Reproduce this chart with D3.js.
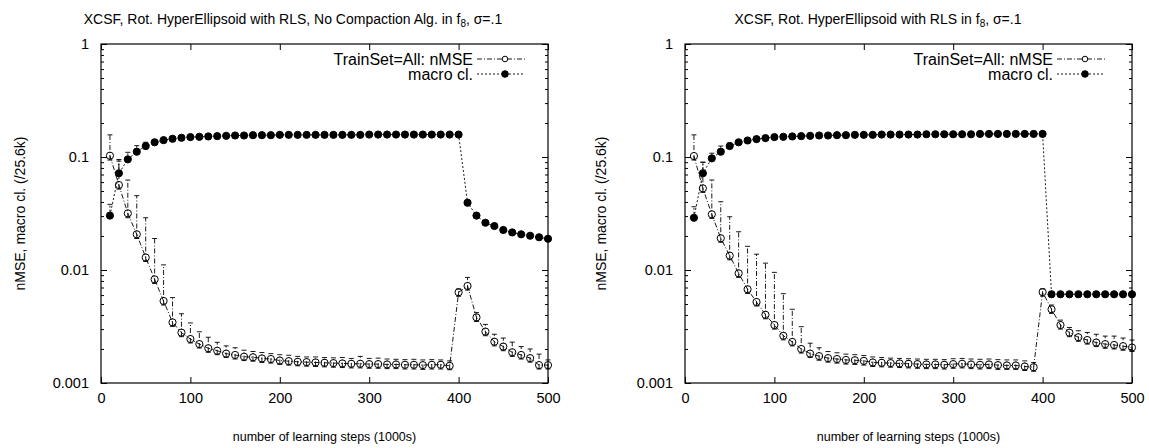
<!DOCTYPE html>
<html>
<head>
<meta charset="utf-8">
<script src="https://cdn.jsdelivr.net/npm/d3@7"></script>
<style>
  body { margin: 0; background: #fff; }
  svg text { font-family: "Liberation Sans", Arial, sans-serif; fill: #000; }
</style>
</head>
<body>
<svg id="chart" width="1149" height="448"></svg>
<script>
// learning steps (1000s)
var steps = [10,20,30,40,50,60,70,80,90,100,110,120,130,140,150,160,170,180,190,200,
	210,220,230,240,250,260,270,280,290,300,310,320,330,340,350,360,370,380,390,400,
	410,420,430,440,450,460,470,480,490,500];

var xTicks = [0, 100, 200, 300, 400, 500];
var yTicks = [0.001, 0.01, 0.1, 1];
var yTickLabels = ["0.001", "0.01", "0.1", "1"];

var titles = ["XCSF, Rot. HyperEllipsoid with RLS, No Compaction Alg. in f", "XCSF, Rot. HyperEllipsoid with RLS in f"];
var legendNames = ["TrainSet=All: nMSE", "macro cl."];

// left panel: no compaction
var leftNmse = [0.1027,0.0565,0.0317,0.0207,0.0129,0.00826,0.00532,0.00344,0.00279,0.00245,
	0.00221,0.00203,0.00193,0.00182,0.00177,0.00171,0.00169,0.00165,0.00163,0.00158,
	0.00156,0.00154,0.00153,0.00152,0.00151,0.0015,0.00149,0.00148,0.00148,0.00147,
	0.00147,0.00146,0.00146,0.00145,0.00145,0.00144,0.00145,0.00145,0.00142,0.00635,
	0.00722,0.00381,0.00285,0.00232,0.0021,0.00187,0.00177,0.00166,0.00144,0.00144];
var leftNmseHi = [0.157,0.092,0.0625,0.0455,0.029,0.019,0.0111,0.0057,0.0041,0.0034,
	0.00284,0.00254,0.00229,0.00213,0.00205,0.00195,0.0019,0.00186,0.00182,0.00178,
	0.00176,0.00172,0.0017,0.0017,0.00168,0.00167,0.00168,0.00165,0.00172,0.00165,
	0.00166,0.00163,0.00162,0.00161,0.00162,0.0016,0.00161,0.0016,0.00157,0.0068,
	0.0086,0.0042,0.0033,0.0027,0.0025,0.0023,0.0021,0.002,0.0018,0.0016];
var leftNmseLo = [0.094,0.052,0.029,0.019,0.0119,0.0076,0.0049,0.00317,0.00257,0.00226,
	0.00204,0.00187,0.00178,0.00168,0.00163,0.00158,0.00156,0.00152,0.0015,0.00146,
	0.00144,0.00142,0.00141,0.0014,0.00139,0.00138,0.00137,0.00136,0.00136,0.00135,
	0.00135,0.00134,0.00134,0.00133,0.00133,0.00132,0.00133,0.00133,0.00131,0.00585,
	0.00664,0.0035,0.00262,0.00213,0.00193,0.00172,0.00163,0.00153,0.00133,0.00133];
var leftMacro = [0.0303,0.0718,0.0953,0.1114,0.125,0.135,0.141,0.145,0.148,0.150,
	0.151,0.152,0.153,0.154,0.155,0.155,0.156,0.156,0.156,0.157,
	0.157,0.157,0.157,0.157,0.157,0.157,0.157,0.157,0.157,0.158,
	0.158,0.158,0.158,0.158,0.158,0.158,0.158,0.158,0.158,0.158,
	0.0394,0.0303,0.0262,0.0245,0.0226,0.0215,0.0207,0.0201,0.0195,0.0189];
var leftMacroHi = [0.0381,0.095,0.11,0.126,0.135,0.142,0.146,0.145,0.148,0.150,
	0.151,0.152,0.153,0.154,0.155,0.155,0.156,0.156,0.156,0.157,
	0.157,0.157,0.157,0.157,0.157,0.157,0.157,0.157,0.157,0.158,
	0.158,0.158,0.158,0.158,0.158,0.158,0.158,0.158,0.158,0.158,
	0.0394,0.0303,0.0262,0.0245,0.0226,0.0215,0.0207,0.0201,0.0195,0.0189];

// right panel: with compaction at 400k
var rightNmse = [0.102,0.0528,0.0311,0.0191,0.0134,0.00935,0.00675,0.00521,0.00402,0.00326,
	0.00262,0.00231,0.002,0.00182,0.00173,0.00166,0.00163,0.0016,0.00159,0.00157,
	0.00152,0.00151,0.0015,0.00149,0.00148,0.00147,0.00146,0.00146,0.00145,0.00147,
	0.00148,0.00146,0.00145,0.00146,0.00144,0.00143,0.00143,0.0014,0.00138,0.00638,
	0.00449,0.00326,0.00279,0.00254,0.0024,0.00228,0.00221,0.00217,0.00212,0.00206];
var rightNmseHi = [0.157,0.0898,0.0626,0.0402,0.0296,0.0218,0.0162,0.0138,0.0115,0.00953,
	0.00617,0.00449,0.00315,0.00225,0.00205,0.0019,0.00185,0.0018,0.00178,0.00175,
	0.0017,0.00168,0.00166,0.00165,0.00164,0.00163,0.00162,0.00162,0.00161,0.00164,
	0.00165,0.00163,0.00162,0.00163,0.00161,0.0016,0.0016,0.00157,0.00152,0.0068,
	0.0049,0.0036,0.0031,0.0029,0.0028,0.0027,0.0026,0.0026,0.0025,0.0024];
var rightNmseLo = [0.094,0.0486,0.0286,0.0176,0.0123,0.0086,0.0062,0.0048,0.0037,0.003,
	0.00241,0.00213,0.00184,0.00168,0.00159,0.00153,0.0015,0.00147,0.00146,0.00144,
	0.0014,0.00139,0.00138,0.00137,0.00136,0.00135,0.00134,0.00134,0.00133,0.00135,
	0.00136,0.00134,0.00133,0.00134,0.00132,0.00132,0.00132,0.00129,0.00127,0.00587,
	0.00413,0.003,0.00257,0.00234,0.00221,0.0021,0.00203,0.002,0.00195,0.0019];
var rightMacro = [0.029,0.0718,0.0973,0.1114,0.125,0.135,0.14,0.144,0.147,0.15,
	0.151,0.152,0.153,0.154,0.155,0.155,0.156,0.156,0.157,0.157,
	0.157,0.158,0.158,0.158,0.158,0.158,0.159,0.159,0.159,0.159,
	0.159,0.159,0.16,0.16,0.16,0.16,0.16,0.16,0.16,0.16,
	0.0061,0.0061,0.0061,0.0061,0.0061,0.0061,0.0061,0.0061,0.0061,0.0061];
var rightMacroHi = [0.0363,0.09,0.108,0.125,0.133,0.14,0.14,0.144,0.147,0.15,
	0.151,0.152,0.153,0.154,0.155,0.155,0.156,0.156,0.157,0.157,
	0.157,0.158,0.158,0.158,0.158,0.158,0.159,0.159,0.159,0.159,
	0.159,0.159,0.16,0.16,0.16,0.16,0.16,0.16,0.16,0.16,
	0.0061,0.0061,0.0061,0.0061,0.0061,0.0061,0.0061,0.0061,0.0061,0.0061];

var svg = d3.select("#chart");

var dashNmse = "5,2,1,2";
var dashMacro = "2,2";

var drawPanel = function(p)
{
	var x = d3.scaleLinear().domain([0, 500]).range([p.left, p.right]);
	var y = d3.scaleLog().domain([0.001, 1]).range([p.bottom, p.top]);
	var g = svg.append("g");

	// title
	var t = g.append("text")
		.attr("x", p.titleX)
		.attr("y", 24)
		.attr("text-anchor", "middle")
		.style("font-size", "14px")
		.text(p.title);
	t.append("tspan").attr("dy", 3).style("font-size", "10px").text("8");
	t.append("tspan").attr("dy", -3).text(", \u03c3=.1");

	// axes (ticks point inwards, mirrored)
	var xb = g.append("g").attr("transform", "translate(0," + p.bottom + ")")
		.call(d3.axisBottom(x).tickValues(xTicks).tickSize(-6).tickPadding(10).tickFormat(d3.format("d")));
	var xt = g.append("g").attr("transform", "translate(0," + p.top + ")")
		.call(d3.axisTop(x).tickValues(xTicks).tickSize(-6).tickFormat(""));
	var minors = [];
	[0.001, 0.01, 0.1].forEach(function(d) {
		for (var k = 2; k < 10; k++) minors.push(d * k);
	});
	var yl = g.append("g").attr("transform", "translate(" + p.left + ",0)")
		.call(d3.axisLeft(y).tickValues(yTicks).tickSize(-6).tickPadding(12)
			.tickFormat(function(d, i) { return yTickLabels[i]; }));
	var yr = g.append("g").attr("transform", "translate(" + p.right + ",0)")
		.call(d3.axisRight(y).tickValues(yTicks).tickSize(-6).tickFormat(""));
	g.append("g").attr("transform", "translate(" + p.left + ",0)")
		.call(d3.axisLeft(y).tickValues(minors).tickSize(-3).tickFormat(""));
	g.append("g").attr("transform", "translate(" + p.right + ",0)")
		.call(d3.axisRight(y).tickValues(minors).tickSize(-3).tickFormat(""));
	g.selectAll(".domain").remove();
	g.selectAll(".tick line").attr("stroke", "#000");
	g.selectAll(".tick text").style("font-size", "14.5px").style("font-family", "'Liberation Sans', Arial, sans-serif");

	g.append("rect")
		.attr("x", p.left).attr("y", p.top)
		.attr("width", p.right - p.left).attr("height", p.bottom - p.top)
		.attr("fill", "none").attr("stroke", "#000").attr("stroke-width", 1.2);

	// axis labels
	g.append("text")
		.attr("x", (p.left + p.right) / 2).attr("y", 441)
		.attr("text-anchor", "middle")
		.style("font-size", "12.5px")
		.text("number of learning steps (1000s)");
	g.append("text")
		.attr("transform", "translate(" + p.ylabX + "," + (p.top + p.bottom) / 2 + ") rotate(-90)")
		.attr("text-anchor", "middle")
		.attr("dy", "0.35em")
		.style("font-size", "14px")
		.text("nMSE, macro cl.  (/25.6k)");

	var line = d3.line()
		.x(function(d) { return x(d.s); })
		.y(function(d) { return y(d.v); });

	var series = [
		{ v: p.nmse, hi: p.nmseHi, lo: p.nmseLo, dash: dashNmse, open: true },
		{ v: p.macro, hi: p.macroHi, lo: p.macro, dash: dashMacro, open: false }
	];

	series.forEach(function(s) {
		var pts = steps.map(function(st, i) {
			return { s: st, v: s.v[i], hi: s.hi[i], lo: s.lo[i] };
		});
		g.append("path")
			.datum(pts)
			.attr("d", line)
			.attr("fill", "none")
			.attr("stroke", "#000")
			.attr("stroke-width", 0.9)
			.attr("stroke-dasharray", s.dash);

		// error bars
		var eb = g.append("g").selectAll("g")
			.data(pts.filter(function(d) { return d.hi > d.v * 1.01 || d.lo < d.v * 0.99; }))
			.enter().append("g")
			.attr("stroke", "#000")
			.attr("stroke-width", 0.9);
		eb.append("line")
			.attr("x1", function(d) { return x(d.s); })
			.attr("x2", function(d) { return x(d.s); })
			.attr("y1", function(d) { return y(d.lo); })
			.attr("y2", function(d) { return y(d.hi); })
			.attr("stroke-dasharray", s.dash);
		eb.append("line")
			.attr("x1", function(d) { return x(d.s) - 2.5; })
			.attr("x2", function(d) { return x(d.s) + 2.5; })
			.attr("y1", function(d) { return y(d.hi); })
			.attr("y2", function(d) { return y(d.hi); });
		eb.filter(function(d) { return d.lo < d.v * 0.99; }).append("line")
			.attr("x1", function(d) { return x(d.s) - 2.5; })
			.attr("x2", function(d) { return x(d.s) + 2.5; })
			.attr("y1", function(d) { return y(d.lo); })
			.attr("y2", function(d) { return y(d.lo); });

		g.append("g").selectAll("circle")
			.data(pts)
			.enter().append("circle")
			.attr("cx", function(d) { return x(d.s); })
			.attr("cy", function(d) { return y(d.v); })
			.attr("r", 3.6)
			.attr("fill", s.open ? "none" : "#000")
			.attr("stroke", "#000")
			.attr("stroke-width", 1);
	});

	// legend
	var lx = p.legendX;
	legendNames.forEach(function(name, i) {
		var ly = 59 + i * 15;
		g.append("text")
			.attr("x", lx).attr("y", ly)
			.attr("dy", "0.35em")
			.attr("text-anchor", "end")
			.style("font-size", "16px")
			.text(name);
		g.append("line")
			.attr("x1", lx + 4).attr("x2", lx + 52)
			.attr("y1", ly).attr("y2", ly)
			.attr("stroke", "#000").attr("stroke-width", 0.9)
			.attr("stroke-dasharray", i == 0 ? dashNmse : dashMacro);
		g.append("circle")
			.attr("cx", lx + 32).attr("cy", ly)
			.attr("r", i == 0 ? 2.8 : 3.3)
			.attr("fill", i == 0 ? "#fff" : "#000")
			.attr("stroke", "#000");
	});
};

drawPanel({
	left: 101, right: 548, top: 44, bottom: 383,
	titleX: 293, ylabX: 20, legendX: 473,
	title: titles[0],
	nmse: leftNmse, nmseHi: leftNmseHi, nmseLo: leftNmseLo,
	macro: leftMacro, macroHi: leftMacroHi
});

drawPanel({
	left: 685, right: 1132, top: 44, bottom: 383,
	titleX: 878, ylabX: 601, legendX: 1053,
	title: titles[1],
	nmse: rightNmse, nmseHi: rightNmseHi, nmseLo: rightNmseLo,
	macro: rightMacro, macroHi: rightMacroHi
});
</script>
</body>
</html>
